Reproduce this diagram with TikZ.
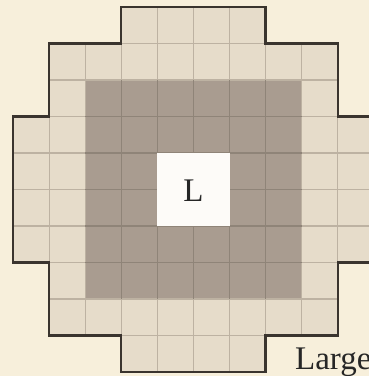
\documentclass[tikz,border=0pt]{standalone}
\usepackage{fontspec}
\setmainfont{Liberation Serif}
\definecolor{bgcream}{HTML}{F7EFDB}
\definecolor{lightcell}{HTML}{E6DCCA}
\definecolor{darkcell}{HTML}{A99C90}
\definecolor{whitecell}{HTML}{FDFBF8}
\definecolor{gridlight}{HTML}{BDB2A2}
\definecolor{griddark}{HTML}{8F8478}
\definecolor{outline}{HTML}{3A342E}
\begin{document}
\begin{tikzpicture}[x=36.1pt,y=-36.5pt,
  outlinestyle/.style={draw=outline,line width=2.4pt,line join=miter},
  gridlinestyle/.style={line width=1.1pt},
  labeltext/.style={font=\fontsize{33}{33}\selectfont,text=black!85,inner sep=0pt}]
\useasboundingbox[fill=bgcream] (-0.3601,-0.1918) rectangle (9.8615,10.1096);
% cross-shaped area
\def\shape{(3,0) -- (7,0) -- (7,1) -- (9,1) -- (9,3) -- (10,3) -- (10,7) -- (9,7) -- (9,9) -- (7,9) -- (7,10) -- (3,10) -- (3,9) -- (1,9) -- (1,7) -- (0,7) -- (0,3) -- (1,3) -- (1,1) -- (3,1) -- cycle}
\fill[lightcell] \shape;
\fill[darkcell] (2,2) rectangle (8,8);
\begin{scope}
  \clip \shape;
  \foreach \k in {1,...,9} {
    \draw[gridlinestyle,draw=gridlight] (\k,0) -- (\k,10);
    \draw[gridlinestyle,draw=gridlight] (0,\k) -- (10,\k);
  }
\end{scope}
\foreach \k in {3,...,7} {
  \draw[gridlinestyle,draw=griddark] (\k,2) -- (\k,8);
  \draw[gridlinestyle,draw=griddark] (2,\k) -- (8,\k);
}
\fill[whitecell] (4,4) rectangle (6,6);
\draw[outlinestyle] \shape;
\node[labeltext] (centerL) at (5,5.03) {L};
\node[labeltext,anchor=base west] (largelabel) at (7.81,9.93) {Large};
\end{tikzpicture}
\end{document}
